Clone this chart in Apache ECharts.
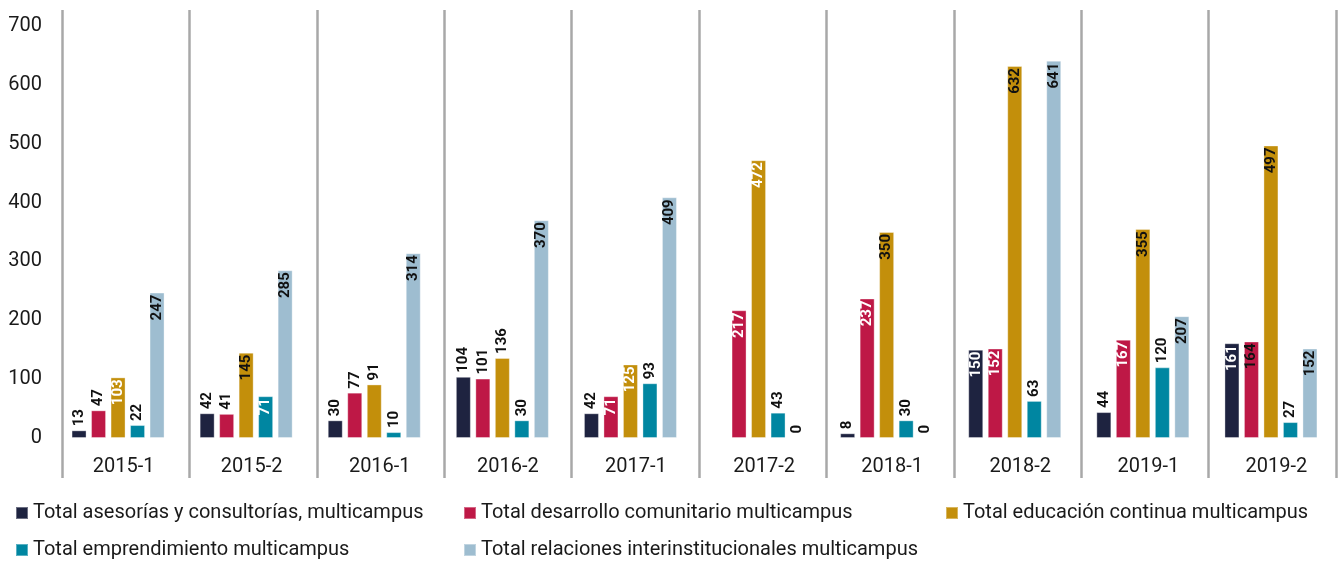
<!DOCTYPE html>
<html>
<head>
<meta charset="utf-8">
<script src="https://cdn.jsdelivr.net/npm/echarts@6/dist/echarts.min.js"></script>
<style>
  html, body { margin: 0; padding: 0; background: #ffffff; }
  #chart { width: 1338px; height: 561px; }
</style>
</head>
<body>
<div id="chart"></div>
<script>
// Semesters on the category axis
const periods = ['2015-1', '2015-2', '2016-1', '2016-2', '2017-1', '2017-2', '2018-1', '2018-2', '2019-1', '2019-2'];

// Values per series (null = no record for that semester)
const asesorias      = [13, 42, 30, 104, 42, null, 8, 150, 44, 161];
const desarrollo     = [47, 41, 77, 101, 71, 217, 237, 152, 167, 164];
const educacion      = [103, 145, 91, 136, 125, 472, 350, 632, 355, 497];
const emprendimiento = [22, 71, 10, 30, 93, 43, 30, 63, 120, 27];
const relaciones     = [247, 285, 314, 370, 409, 0, 0, 641, 207, 152];

// Value-axis ticks
const yTicks = [0, 100, 200, 300, 400, 500, 600, 700];

// Series names
const seriesNames = [
  'Total asesorías y consultorías, multicampus',
  'Total desarrollo comunitario multicampus',
  'Total educación continua multicampus',
  'Total emprendimiento multicampus',
  'Total relaciones interinstitucionales multicampus'
];

// Label placement per bar: o = above the bar, k = inside (dark text), w = inside (white text)
const labelModes = [
  'ooooo-owow',
  'oooowwwwwk',
  'wkoowwkkkk',
  'owoooooooo',
  'kkkkkookkk'
];

const colors = ['#1e2340', '#be1846', '#c38f0b', '#0086a1', '#9ebdd0'];
const seriesData = [asesorias, desarrollo, educacion, emprendimiento, relaciones];

const FONT = 'Roboto, "DejaVu Sans", sans-serif';

function buildData(values, modes) {
  return values.map((v, i) => {
    const m = modes[i];
    if (v === null) return { value: null };
    const inside = m === 'k' || m === 'w';
    return {
      value: v,
      label: inside
        ? { position: 'insideTop', align: 'right', verticalAlign: 'middle', distance: 2,
            color: m === 'w' ? '#ffffff' : '#111111' }
        : { position: 'top', align: 'left', verticalAlign: 'middle', distance: 4, color: '#111111' }
    };
  });
}

const series = seriesData.map((vals, s) => ({
  name: seriesNames[s],
  type: 'bar',
  xAxisIndex: 0,
  yAxisIndex: 0,
  barWidth: 15,
  barGap: '30%',
  itemStyle: { color: colors[s], borderColor: 'rgba(255,255,255,0.35)', borderWidth: 1 },
  label: {
    show: true,
    rotate: 90,
    fontFamily: FONT,
    fontWeight: 'bold',
    fontSize: 15,
    formatter: p => (p.value === null || p.value === undefined ? '' : String(p.value))
  },
  data: buildData(vals, labelModes[s])
}));

// Column separators drawn through a second, taller grid
series.push({
  type: 'bar',
  xAxisIndex: 1,
  yAxisIndex: 1,
  silent: true,
  data: [],
  tooltip: { show: false }
});

const legendText = { fontFamily: FONT, fontSize: 20, color: '#1a1a1a', lineHeight: 20 };
const legendBase = {
  orient: 'vertical',
  top: 503,
  padding: 0,
  itemWidth: 12,
  itemHeight: 12,
  itemGap: 17,
  icon: 'rect',
  textStyle: legendText,
  selectedMode: false
};

const option = {
  animation: false,
  backgroundColor: '#ffffff',
  color: colors,
  legend: [
    Object.assign({}, legendBase, { left: 15, data: [seriesNames[0], seriesNames[3]] }),
    Object.assign({}, legendBase, { left: 463, data: [seriesNames[1], seriesNames[4]] }),
    Object.assign({}, legendBase, { left: 945, data: [seriesNames[2]] })
  ],
  grid: [
    { left: 54, right: 3, top: 26, bottom: 123 },
    { left: 62, right: 2, top: 10, bottom: 83 }
  ],
  xAxis: [
    {
      gridIndex: 0,
      type: 'category',
      data: periods,
      axisLine: { show: false },
      axisTick: { show: false },
      splitLine: { show: false },
      axisLabel: {
        fontFamily: FONT, fontSize: 20, color: '#1a1a1a',
        margin: 19, padding: [0, 0, 0, 11], interval: 0
      }
    },
    {
      gridIndex: 1,
      type: 'category',
      data: periods,
      axisLine: { show: false },
      axisTick: { show: false },
      axisLabel: { show: false },
      splitLine: { show: true, interval: 0, lineStyle: { color: '#a8a8a8', width: 2.5 } }
    }
  ],
  yAxis: [
    {
      gridIndex: 0,
      type: 'value',
      min: yTicks[0],
      max: yTicks[yTicks.length - 1],
      interval: yTicks[1] - yTicks[0],
      axisLine: { show: false },
      axisTick: { show: false },
      splitLine: { show: false },
      axisLabel: { fontFamily: FONT, fontSize: 20, color: '#1a1a1a', margin: 12 }
    },
    {
      gridIndex: 1,
      type: 'value',
      min: 0,
      max: 1,
      show: false
    }
  ],
  series: series
};

const chart = echarts.init(document.getElementById('chart'), null, { renderer: 'canvas' });
chart.setOption(option);
</script>
</body>
</html>
